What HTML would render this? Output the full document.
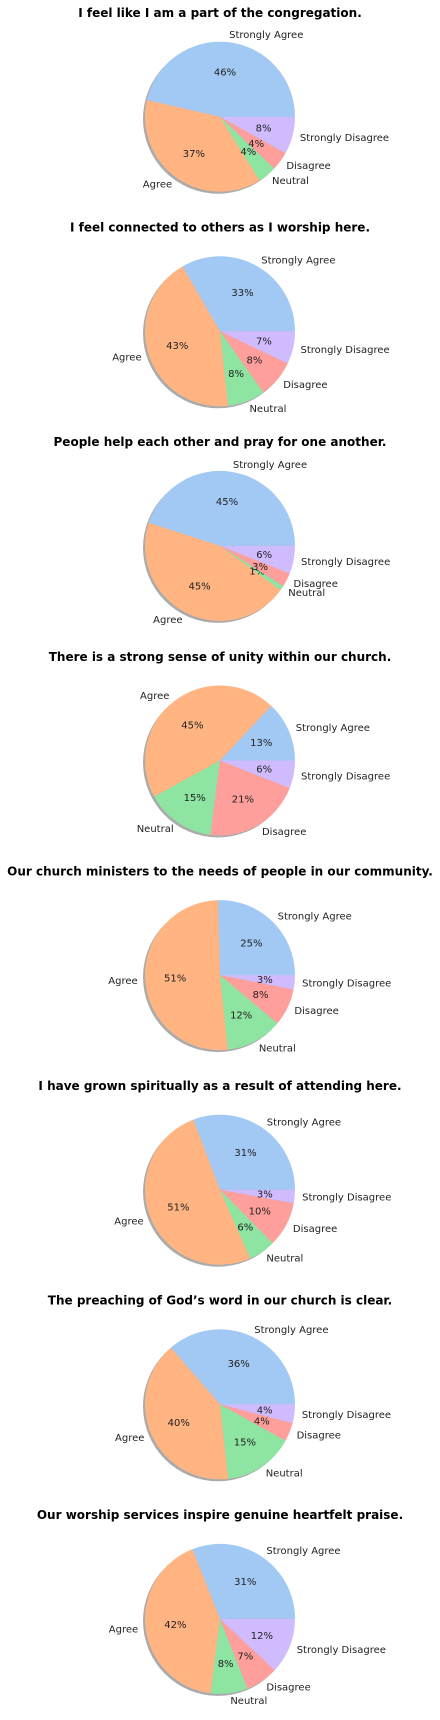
<!DOCTYPE html>
<html><head><meta charset="utf-8"><style>
html,body{margin:0;padding:0;background:#fff;}
svg{display:block;}
</style></head><body>
<svg id="chart" width="440" height="1720" viewBox="0 0 440 1720" xmlns="http://www.w3.org/2000/svg"></svg>
<script>
const categories = ["Strongly Agree","Agree","Neutral","Disagree","Strongly Disagree"];
const titles = [
 "I feel like I am a part of the congregation.",
 "I feel connected to others as I worship here.",
 "People help each other and pray for one another.",
 "There is a strong sense of unity within our church.",
 "Our church ministers to the needs of people in our community.",
 "I have grown spiritually as a result of attending here.",
 "The preaching of God\u2019s word in our church is clear.",
 "Our worship services inspire genuine heartfelt praise."
];
const q1 = [46,37,4,4,8];
const q2 = [33,43,8,8,7];
const q3 = [45,45,1,3,6];
const q4 = [13,45,15,21,6];
const q5 = [25.4,51.3,12.2,8.0,3.1];
const q6 = [30.8,50.8,5.8,9.7,2.9];
const q7 = [36,40,15,4,4];
const q8 = [31,42,8,7,12];
const series = [q1,q2,q3,q4,q5,q6,q7,q8];
const colors = ["#a1c9f4","#ffb482","#8de5a1","#ff9f9b","#d0bbff"];

const svg = document.getElementById('chart');
const NS = "http://www.w3.org/2000/svg";
const R = 75, CX = 220, CY0 = 116.7, STEP = 214.6, TITLE0 = 17;
function mk(tag, attrs){ const e=document.createElementNS(NS,tag); for(const k in attrs) e.setAttribute(k,attrs[k]); svg.appendChild(e); return e; }
function pt(cx,cy,r,a){ return [cx + r*Math.cos(a), cy - r*Math.sin(a)]; }

series.forEach((vals, i) => {
  const cy = CY0 + i*STEP;
  const t = mk('text',{x:CX,y:TITLE0+i*STEP,'text-anchor':'middle','font-family':'DejaVu Sans, Liberation Sans, sans-serif','font-size':'12','font-weight':'bold',fill:'#000'});
  t.textContent = titles[i];
  
  
  const sh = mk('circle',{cx:CX-2,cy:cy+2,r:R,fill:'#666','fill-opacity':'0.55'});
  
  
  const total = vals.reduce((a,b)=>a+b,0);
  let ang = 0;
  vals.forEach((v, j) => {
    const sweep = v/total*2*Math.PI;
    const a0 = ang, a1 = ang + sweep, mid = ang + sweep/2;
    const [x0,y0] = pt(CX,cy,R,a0), [x1,y1] = pt(CX,cy,R,a1);
    const large = sweep > Math.PI ? 1 : 0;
    const p = mk('path',{d:`M${CX},${cy} L${x0},${y0} A${R},${R} 0 ${large} 0 ${x1},${y1} Z`,fill:colors[j]});
    
    
    const [lx,ly] = pt(CX,cy,R*1.1,mid);
    const lab = mk('text',{x:lx,y:ly+3.5,'text-anchor':Math.cos(mid)>=0?'start':'end','font-family':'DejaVu Sans, Liberation Sans, sans-serif','font-size':'10',fill:'#222'});
    lab.textContent = categories[j];
    
    
    const [px,py] = pt(CX,cy,R*0.6,mid);
    const pc = mk('text',{x:px,y:py+3.5,'text-anchor':'middle','font-family':'DejaVu Sans, Liberation Sans, sans-serif','font-size':'10',fill:'#222'});
    pc.textContent = Math.round(v/total*100) + '%';
    
    
    ang = a1;
  });
});
</script>
</body></html>
